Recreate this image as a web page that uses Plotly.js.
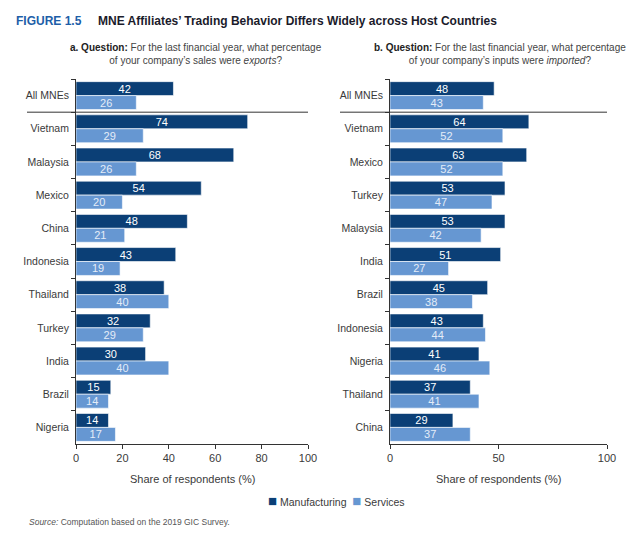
<!DOCTYPE html>
<html>
<head>
<meta charset="utf-8">
<script src="https://cdn.plot.ly/plotly-3.0.1.min.js"></script>
<style>
  html, body { margin: 0; padding: 0; background: #fff; }
  #chart { width: 640px; height: 544px; }
</style>
</head>
<body>
<div id="chart"></div>
<script>
// Panel a: exports
const catsA = ["All MNEs", "Vietnam", "Malaysia", "Mexico", "China", "Indonesia", "Thailand", "Turkey", "India", "Brazil", "Nigeria"];
const mfgA = [42, 74, 68, 54, 48, 43, 38, 32, 30, 15, 14];
const srvA = [26, 29, 26, 20, 21, 19, 40, 29, 40, 14, 17];

// Panel b: imports
const catsB = ["All MNEs", "Vietnam", "Mexico", "Turkey", "Malaysia", "India", "Brazil", "Indonesia", "Nigeria", "Thailand", "China"];
const mfgB = [48, 64, 63, 53, 53, 51, 45, 43, 41, 37, 29];
const srvB = [43, 52, 52, 47, 42, 27, 38, 44, 46, 41, 37];

const ticksA = [0, 20, 40, 60, 80, 100];
const ticksB = [0, 50, 100];

const seriesNames = ["Manufacturing", "Services"];

const DARK = "#0b3f76";
const LIGHT = "#6697d2";
const FONT = "Liberation Sans, Arial, sans-serif";
const GRAY = "#3a3a3a";

function barTrace(name, x, y, color, xa, ya, txtColor) {
  return {
    type: "bar", orientation: "h", name: name, x: x, y: y,
    xaxis: xa, yaxis: ya, showlegend: false,
    marker: { color: color, line: { color: "#ffffff", width: 0.6 } },
    text: x.map(String), textposition: "inside", insidetextanchor: "middle",
    textangle: 0, constraintext: "none",
    textfont: { family: FONT, size: 11, color: txtColor },
    hoverinfo: "x+y"
  };
}

const data = [
  barTrace(seriesNames[0], mfgA, catsA, DARK, "x", "y", "#ffffff"),
  barTrace(seriesNames[1], srvA, catsA, LIGHT, "x", "y", "#e4ecf8"),
  barTrace(seriesNames[0], mfgB, catsB, DARK, "x2", "y2", "#ffffff"),
  barTrace(seriesNames[1], srvB, catsB, LIGHT, "x2", "y2", "#e4ecf8")
];

const W = 640, H = 544;
const yDom = [1 - 444 / H, 1 - 79 / H];

function xAxis(dom, ticks, anchor) {
  return {
    domain: dom, range: [0, 100], tickvals: ticks, ticktext: ticks.map(String),
    showline: true, linecolor: "#333", linewidth: 1,
    ticks: "outside", ticklen: 4, tickcolor: "#333",
    showgrid: false, zeroline: false, anchor: anchor, fixedrange: true,
    tickfont: { family: FONT, size: 11, color: GRAY }
  };
}
function yAxis(cats, anchor) {
  return {
    domain: yDom, type: "category", categoryorder: "array", categoryarray: cats,
    autorange: "reversed", anchor: anchor,
    showline: true, linecolor: "#333", linewidth: 1,
    ticks: "outside", ticklen: 4, tickcolor: "#333", tickson: "boundaries",
    showgrid: false, zeroline: false, fixedrange: true, ticklabelstandoff: 4,
    tickfont: { family: FONT, size: 10.5, color: GRAY }
  };
}

const legendText =
  "<span style='color:" + DARK + ";font-size:15px'>■</span> " + seriesNames[0] +
  "&nbsp;&nbsp;<span style='color:" + LIGHT + ";font-size:15px'>■</span> " + seriesNames[1];

const layout = {
  width: W, height: H,
  margin: { l: 0, r: 0, t: 0, b: 0 },
  paper_bgcolor: "#fff", plot_bgcolor: "#fff",
  barmode: "group", bargap: 0.16, bargroupgap: 0,
  showlegend: false,
  font: { family: FONT, color: GRAY },
  xaxis: xAxis([76 / W, 308 / W], ticksA, "y"),
  yaxis: yAxis(catsA, "x"),
  xaxis2: xAxis([390 / W, 607 / W], ticksB, "y2"),
  yaxis2: yAxis(catsB, "x2"),
  shapes: [
    { type: "line", xref: "paper", yref: "y", x0: 27 / W, x1: 308 / W, y0: 0.5, y1: 0.5,
      line: { color: "#333", width: 1 } },
    { type: "line", xref: "paper", yref: "y2", x0: 340 / W, x1: 607 / W, y0: 0.5, y1: 0.5,
      line: { color: "#333", width: 1 } }
  ],
  annotations: [
    { xref: "paper", yref: "paper", x: 14 / W, y: 1 - 21 / H, xanchor: "left", yanchor: "middle",
      showarrow: false, align: "left",
      text: "<b><span style='color:#1d5ea8'>FIGURE 1.5</span>&nbsp;&nbsp;&nbsp;&nbsp;&nbsp;<span style='color:#1b1b2b'>MNE Affiliates’ Trading Behavior Differs Widely across Host Countries</span></b>",
      font: { family: FONT, size: 12 } },
    { xref: "paper", yref: "paper", x: 196 / W, y: 1 - 54 / H, xanchor: "center", yanchor: "middle",
      showarrow: false, align: "center",
      text: "<b style='color:#222'>a. Question:</b> For the last financial year, what percentage<br>of your company’s sales were <i>exports</i>?",
      font: { family: FONT, size: 10, color: "#444" } },
    { xref: "paper", yref: "paper", x: 500 / W, y: 1 - 54 / H, xanchor: "center", yanchor: "middle",
      showarrow: false, align: "center",
      text: "<b style='color:#222'>b. Question:</b> For the last financial year, what percentage<br>of your company’s inputs were <i>imported</i>?",
      font: { family: FONT, size: 10, color: "#444" } },
    { xref: "paper", yref: "paper", x: 192 / W, y: 1 - 479 / H, xanchor: "center", yanchor: "middle",
      showarrow: false, text: "Share of respondents (%)",
      font: { family: FONT, size: 11, color: GRAY } },
    { xref: "paper", yref: "paper", x: 498 / W, y: 1 - 479 / H, xanchor: "center", yanchor: "middle",
      showarrow: false, text: "Share of respondents (%)",
      font: { family: FONT, size: 11, color: GRAY } },
    { xref: "paper", yref: "paper", x: 336 / W, y: 1 - 500 / H, xanchor: "center", yanchor: "middle",
      showarrow: false, text: legendText,
      font: { family: FONT, size: 10.5, color: GRAY } },
    { xref: "paper", yref: "paper", x: 27 / W, y: 1 - 522 / H, xanchor: "left", yanchor: "middle",
      showarrow: false, text: "<i>Source:</i> Computation based on the 2019 GIC Survey.",
      font: { family: FONT, size: 8.5, color: "#555" } }
  ]
};

Plotly.newPlot("chart", data, layout, { displayModeBar: false, staticPlot: true });
</script>
</body>
</html>
